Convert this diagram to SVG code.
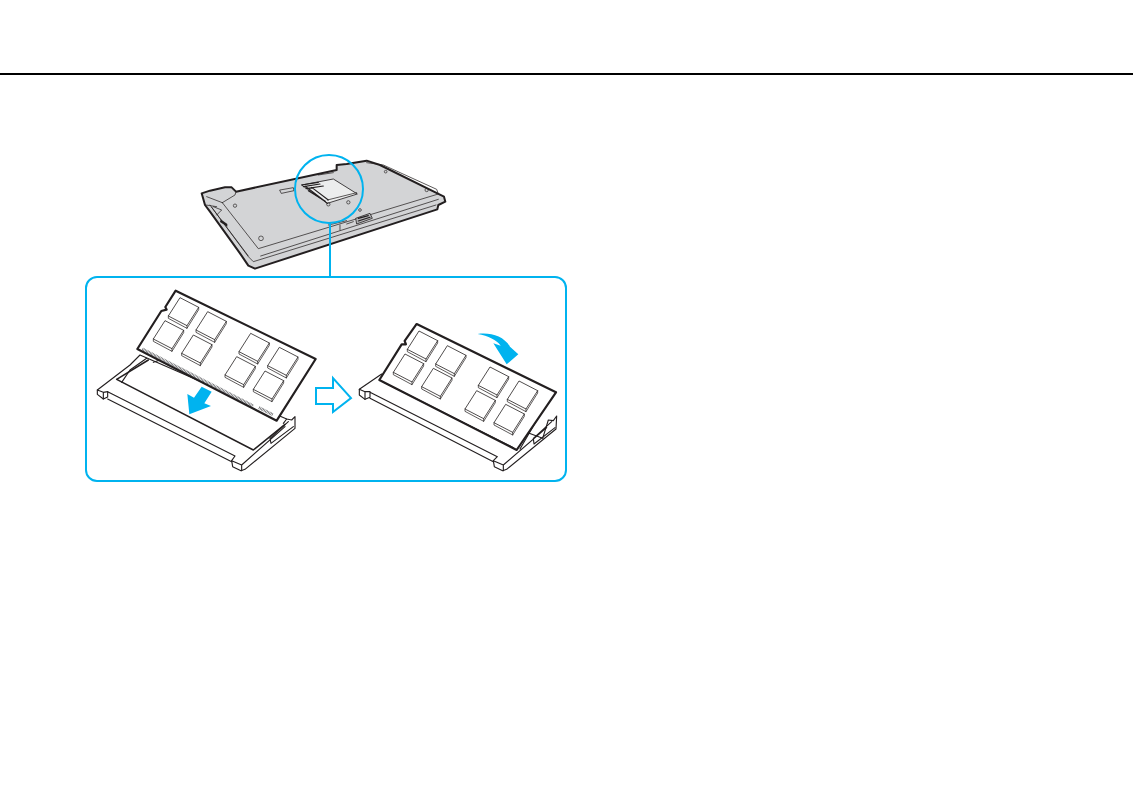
<svg xmlns="http://www.w3.org/2000/svg" width="1133" height="800" viewBox="0 0 1133 800">
<style>
.t{fill:none;stroke:#231f20;stroke-width:2.2;stroke-linejoin:round;stroke-linecap:round}
.m{fill:none;stroke:#231f20;stroke-width:3.4;stroke-linejoin:round;stroke-linecap:round}
.h{fill:none;stroke:#231f20;stroke-width:4.5;stroke-linejoin:round;stroke-linecap:round}
.w{fill:#fff;stroke:#231f20;stroke-width:2.4;stroke-linejoin:round}
.pcb{fill:#fff;stroke:#231f20;stroke-width:6.5;stroke-linejoin:round}
.b{fill:#00b3ef}
.pin{fill:none;stroke:#55565a;stroke-width:9;stroke-dasharray:2 2.4}
</style>
<defs>
<g id="chip"><path class="w" d="M0 0L56 29L21 84L-35 55Z"/><path class="t" d="M-35 55L-35 62L21 92L56 36L56 29M21 84V92"/></g>
</defs>
<rect width="1133" height="800" fill="#fff"/>
<rect id="header-rule" x="0" y="73" width="1133" height="2" fill="#000"/>
<g id="laptop" transform="translate(190 150) scale(.33333)">
<path fill="#d3d4d6" stroke="#231f20" stroke-width="6" stroke-linejoin="round" d="M35 130L60 122L105 112L125 112L138 125L440 60L440 45L470 42L530 32L570 45L762 140L766 155L745 165L742 178L195 356L175 347L150 310L60 185L45 165Z"/>
<path class="t" d="M97 158L135 135L138 125M97 158L205 296L745 132L740 118L580 45L530 38"/>
<path class="t" d="M212 318L745 148M738 165L190 335L175 320L60 165M50 140L97 158M48 165L80 170M65 172L175 318"/>
<path fill="#eceded" stroke="#231f20" stroke-width="2.5" stroke-linejoin="round" d="M335 105L430 87L502 132L412 160Z"/>
<path class="m" d="M335 105L385 97M340 110L390 102M348 116L400 108M355 122L406 154M345 108L400 150L412 160M365 112L415 150"/>
<path class="t" d="M412 150L500 128M270 120L310 113L312 122L275 130ZM385 75L430 68"/>
<path fill="#b5b6b8" stroke="#231f20" stroke-width="2.4" d="M497 205L540 190L547 205L500 222Z"/>
<path class="m" d="M505 205L535 197M505 213L540 202"/>
<path d="M92 208L112 222L112 230L90 216Z" fill="#231f20"/>
<path class="t" d="M415 225L470 212M450 225V240M470 222L490 215M70 170L95 180L80 195"/>
<g fill="none" stroke="#231f20" stroke-width="2"><circle cx="135" cy="167" r="5"/><circle cx="213" cy="265" r="7"/><circle cx="475" cy="157" r="5"/><circle cx="415" cy="163" r="5"/><circle cx="710" cy="120" r="5"/><circle cx="587" cy="65" r="4"/><circle cx="510" cy="180" r="4"/></g>
</g>
<g id="connectors">
<circle cx="329" cy="189" r="34" fill="none" stroke="#00b3ef" stroke-width="2"/>
<path d="M330 223V277" stroke="#00b3ef" stroke-width="2" fill="none"/>
</g>
<rect id="callout-frame" x="86" y="277" width="480" height="204" rx="11" fill="#fff" stroke="#00b3ef" stroke-width="2"/>
<g id="step-1" transform="translate(85 275) scale(.33333)">
<path fill="#fff" class="m" d="M37 345L135 270L165 240L215 262L605 432L620 435L630 425L630 460L480 583L468 587L443 575L440 557L450 543L68 350V366L55 372L37 358Z"/>
<path class="h" d="M95 313L505 525L600 448M95 313L190 255"/>
<path class="m" d="M37 345L55 352L68 350M55 352V372M68 372L440 560M440 557L470 570L470 587M470 570L600 455M110 322L135 285L185 250M205 262L225 255M555 490L610 440M555 490L558 505L625 455M605 432L595 445"/>
<path class="pcb" d="M272 47L692 252L575 437L157 222L229 108L245 104L241 96Z"/>
<path class="pin" d="M172 222L505 393"/>
<path class="pin" d="M522 398L565 420"/>
<use href="#chip" x="285" y="68"/><use href="#chip" x="368" y="110"/><use href="#chip" x="497" y="175"/><use href="#chip" x="583" y="217"/>
<use href="#chip" x="240" y="137"/><use href="#chip" x="325" y="180"/><use href="#chip" x="455" y="245"/><use href="#chip" x="540" y="288"/>
<path class="b" d="M350 335L380 350L358 385L378 393L313 418L307 357L327 368Z"/>
</g>
<path id="process-arrow" d="M316 388H333V378L351 398L333 412V404H316Z" fill="#fff" stroke="#00b3ef" stroke-width="2"/>
<g id="step-2" transform="translate(320 275) scale(.33333)">
<path fill="#fff" class="m" d="M118 343L185 297L215 320L668 490L685 435L700 437L710 423L708 462L560 583L548 587L523 575L520 557L532 545L150 352V367L135 373L118 360Z"/>
<path class="m" d="M118 343L135 350L150 350M135 350V373M150 370L520 560M520 557L550 570L550 587M550 570L680 458M640 490L695 440M640 490L642 507L705 458M600 522L668 405"/>
<path class="pcb" d="M290 147L708 352L590 525L178 315L245 208L258 208L254 198Z"/>
<path class="m" d="M190 322L580 518"/>
<use href="#chip" x="297" y="168"/><use href="#chip" x="382" y="212"/><use href="#chip" x="510" y="276"/><use href="#chip" x="597" y="318"/>
<use href="#chip" x="255" y="237"/><use href="#chip" x="340" y="280"/><use href="#chip" x="470" y="347"/><use href="#chip" x="557" y="388"/>
<path class="b" d="M473 177C510 172 550 182 570 215L595 238L560 268L520 205L542 212C530 195 505 183 473 177Z"/>
</g>
</svg>
